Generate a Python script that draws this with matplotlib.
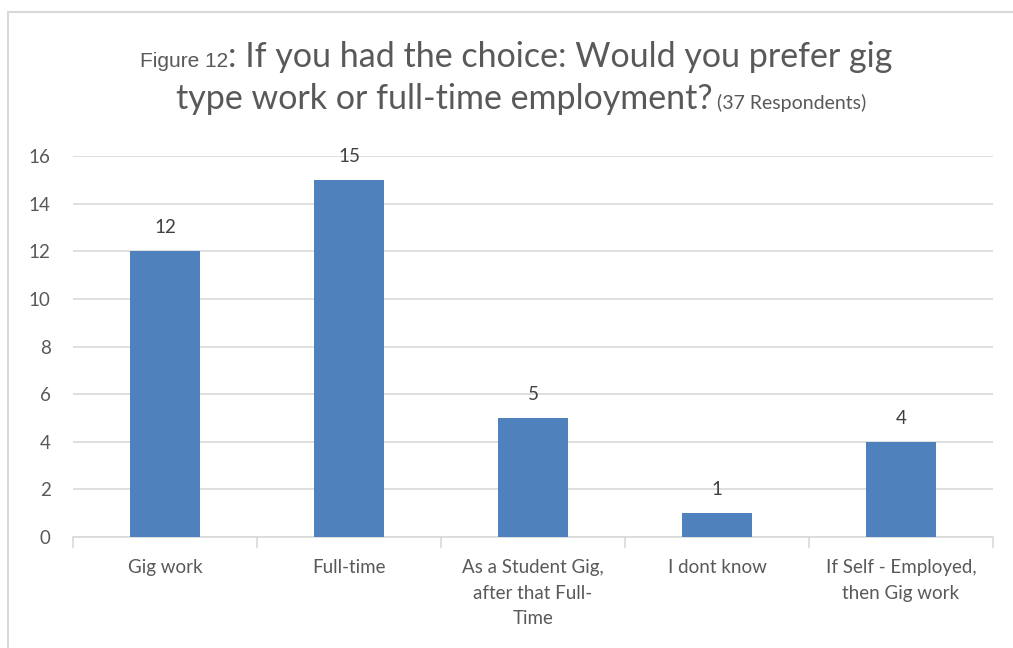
import matplotlib.pyplot as plt
from matplotlib.patches import Rectangle

plt.rcParams['font.family'] = ['Lato', 'DejaVu Sans']

categories = ['Gig work', 'Full-time', 'As a Student Gig,\nafter that Full-\nTime',
              'I dont know', 'If Self - Employed,\nthen Gig work']
counts = [12, 15, 5, 1, 4]
yticks = [0, 2, 4, 6, 8, 10, 12, 14, 16]

W, H = 1013, 648
fig = plt.figure(figsize=(W / 100, H / 100), dpi=100)

# outer chart frame
fig.patches.append(Rectangle((8 / W, -0.1), 1.2, 1 - 12 / H + 0.1, transform=fig.transFigure,
                             fill=False, edgecolor='#d9d9d9', linewidth=1.5))

ax = fig.add_axes([73 / W, (H - 537) / H, 920 / W, (537 - 156) / H])
x = list(range(len(categories)))
ax.bar(x, counts, width=0.38, color='#4f81bd', zorder=3)
for xi, v in zip(x, counts):
    ax.annotate(str(v), (xi, v), xytext=(0, 13), textcoords='offset points',
                ha='center', va='baseline', fontsize=13.5, color='#404040')

ax.set_xlim(-0.5, len(categories) - 0.5)
ax.set_ylim(0, 16)
ax.set_yticks(yticks)
ax.yaxis.grid(True, color='#d9d9d9', linewidth=1.2)
ax.set_axisbelow(True)
for side in ['top', 'right', 'left']:
    ax.spines[side].set_visible(False)
ax.spines['bottom'].set_color('#d9d9d9')
ax.spines['bottom'].set_linewidth(1.2)
ax.tick_params(axis='y', length=0, pad=16, labelsize=13.5, labelcolor='#595959')
ax.set_xticks(x)
ax.set_xticklabels(categories, linespacing=1.6)
ax.tick_params(axis='x', length=0, pad=16, labelsize=13.5, labelcolor='#595959')
ax.set_xticks([i - 0.5 for i in range(len(categories) + 1)], minor=True)
ax.tick_params(axis='x', which='minor', length=8, width=1.2, color='#d9d9d9')

# title built from pieces of different sizes
renderer = fig.canvas.get_renderer()
title_color = '#595959'


def title_line(parts, cx, y):
    texts = [fig.text(0, y, s, fontsize=fs, family=fam, color=title_color, va='baseline')
             for s, fs, fam in parts]
    widths = [t.get_window_extent(renderer).width for t in texts]
    left = cx - sum(widths) / 2
    for t, w in zip(texts, widths):
        t.set_x(left / W)
        left += w


title_line([('Figure 12', 15, 'Liberation Sans'),
            (': If you had the choice: Would you prefer gig', 24.5, 'Lato')],
           516, 1 - 67 / H)
title_line([('type work or full-time employment?', 24.5, 'Lato'),
            (' (37 Respondents)', 14, 'Lato')],
           521, 1 - 109 / H)

fig.savefig('out.png', dpi=100)
